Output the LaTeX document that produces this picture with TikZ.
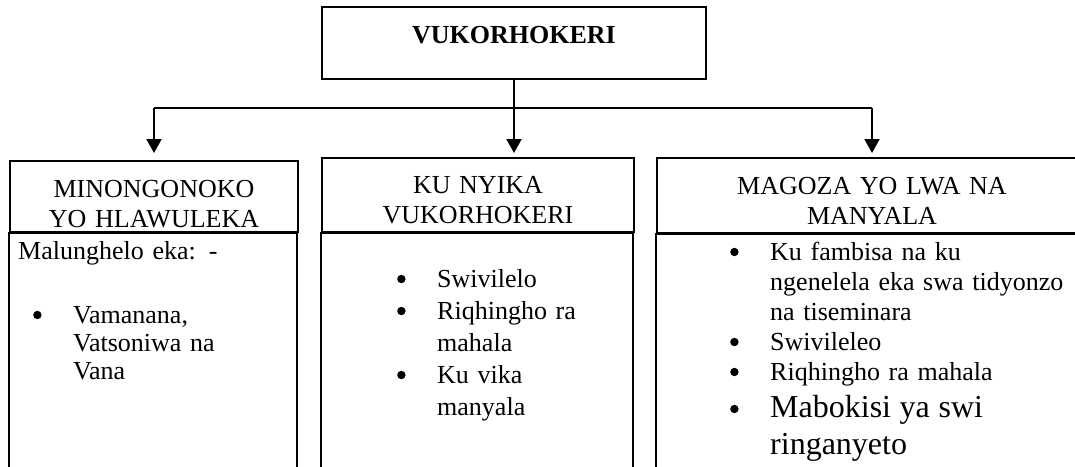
\documentclass[tikz,border=0pt]{standalone}
\usepackage{fontspec}
\setmainfont{Liberation Serif}
\usetikzlibrary{arrows.meta}

% bullet item with hanging indent
\newcommand{\li}[2][15pt]{\leavevmode\hangindent=\dimexpr#1+40pt\relax\hangafter=1
  \hbox to \dimexpr#1+40pt\relax{\hspace{#1}\raisebox{4pt}{\tikz\fill (0,0) circle (4.2pt);}\hfil}#2\par}

\begin{document}
\begin{tikzpicture}[x=1pt, y=-1pt, line width=2pt,
    box/.style={draw, inner sep=0pt, anchor=north west, font=\fontsize{26}{30}\selectfont},
    head/.style={box, align=center, text height=36pt},
    body/.style={box, align=left, inner xsep=9pt, text depth=300pt},
    arr/.style={-{Triangle[length=14pt,width=15pt]}, shorten >=4pt}]

  % Keep the page size
  \useasboundingbox (0,0) rectangle (1075,466);

  % Top box
  \node[head, font=\fontsize{26}{30}\selectfont\bfseries, minimum width=384pt, text depth=36pt] (vuk) at (321,6) {VUKORHOKERI};

  % Column headers
  \node[head, text width=288pt, text depth=35pt] (lhead) at (9,160) {MINONGONOKO\\YO HLAWULEKA};
  \node[head, text width=312pt, text height=35pt, text depth=39pt] (mhead) at (321,157) {KU NYIKA\\VUKORHOKERI};
  \node[head, text width=430pt, text depth=39pt] (rhead) at (656,157) {MAGOZA YO LWA NA\\MANYALA};

  % Column bodies
  \node[body, text width=270pt, text height=26pt] (lbody) at (lhead.south west)
    {Malunghelo eka: -\par\vspace{36pt}\fontsize{26}{28}\selectfont\li{Vamanana,\newline Vatsoniwa na\newline Vana}};
  \node[body, font=\fontsize{26}{32}\selectfont, text width=294pt, text height=54pt] (mbody) at (mhead.south west)
    {\li[67pt]{Swivilelo}\li[67pt]{Riqhingho ra\newline mahala}\li[67pt]{Ku vika\newline manyala}};
  \node[body, text width=412pt, text height=26pt] (rbody) at (rhead.south west)
    {\li[65pt]{Ku fambisa na ku\newline ngenelela eka swa tidyonzo\newline na tiseminara}
     \li[65pt]{Swivileleo}\li[65pt]{Riqhingho ra mahala}
     {\fontsize{32}{37}\selectfont\li[65pt]{Mabokisi ya swi\newline ringanyeto}}};

  % Connectors
  \draw (vuk.south) -- ++(0,28) coordinate (bar);
  \draw (lhead.north |- bar) -- (rhead.north |- bar);
  \draw[arr, shorten >=7pt] (lhead.north |- bar) -- (lhead.north);
  \draw[arr] (bar) -- (bar |- mhead.north);
  \draw[arr] (rhead.north |- bar) -- (rhead.north);
\end{tikzpicture}
\end{document}
